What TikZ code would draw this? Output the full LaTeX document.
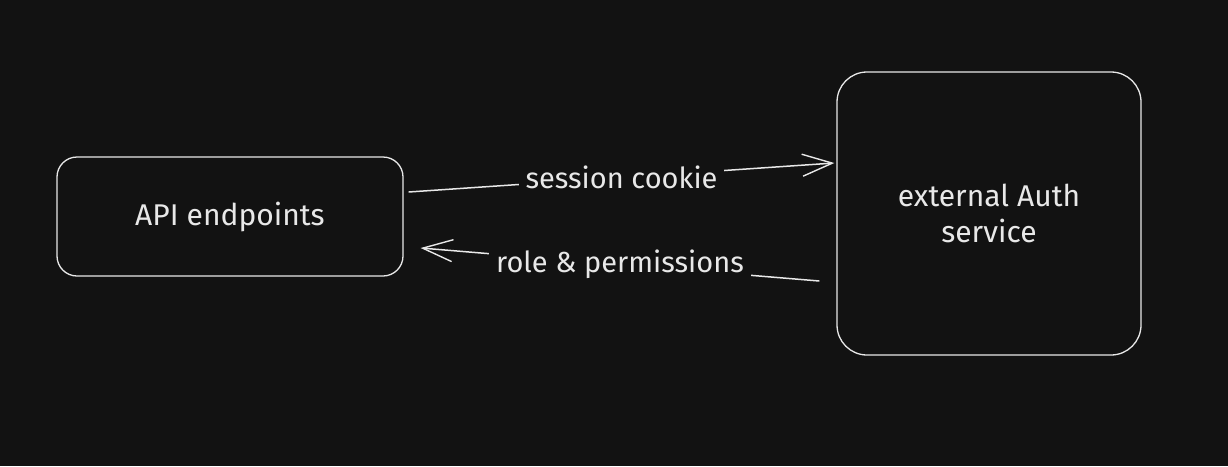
\documentclass[tikz,border=0pt]{standalone}
\usepackage{fontspec}
\setmainfont{Fira Sans}
\usetikzlibrary{arrows.meta}
\definecolor{bg}{HTML}{121212}
\definecolor{ink}{HTML}{E8E8E8}
\begin{document}
\begin{tikzpicture}[x=1pt,y=-1pt,
  boxstyle/.style={draw=ink,line width=1.3pt,text=ink,inner sep=0pt,align=center,font=\fontsize{30}{36}\selectfont},
  arr/.style={draw=ink,line width=1.5pt,-{Straight Barb[length=30pt,width=22pt,line width=1.4pt]}},
  lbl/.style={fill=bg,text=ink,inner xsep=7pt,inner ysep=2pt,font=\fontsize{29}{32}\selectfont}]
\fill[bg] (0,0) rectangle (1228,466);
\useasboundingbox (0,0) rectangle (1228,466);
\node[boxstyle,rounded corners=20pt,minimum width=346pt,minimum height=119pt] (api) at (230,216.5) {API endpoints};
\node[boxstyle,rounded corners=30pt,minimum width=304pt,minimum height=283pt] (auth) at (989,213.5) {external Auth\\service};
\draw[arr] ([xshift=5pt,yshift=24.5pt]api.east) -- node[lbl] (l1) {session cookie} ([xshift=-2pt,yshift=50.5pt]auth.west);
\draw[arr] ([xshift=-17pt,yshift=-67.5pt]auth.west) -- node[lbl] (l2) {role \& permissions} ([xshift=17pt,yshift=-31.5pt]api.east);
\end{tikzpicture}
\end{document}
